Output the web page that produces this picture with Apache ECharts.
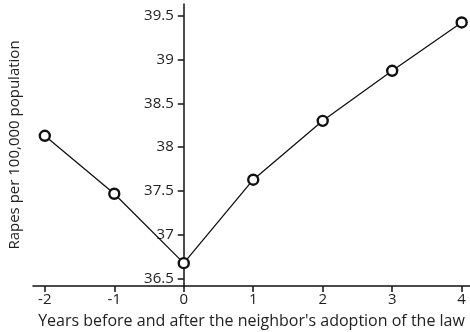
<!DOCTYPE html>
<html><head><meta charset="utf-8">
<script src="https://cdn.jsdelivr.net/npm/echarts@6/dist/echarts.min.js"></script>
<style>html,body{margin:0;padding:0;background:#fff}#c{width:470px;height:332px}</style>
</head><body><div id="c"></div>
<script>
const years = [-2, -1, 0, 1, 2, 3, 4];
const rapes = [38.13, 37.47, 36.68, 37.63, 38.30, 38.87, 39.42];
const xTicks = [-2, -1, 0, 1, 2, 3, 4];
const yTicks = [36.5, 37, 37.5, 38, 38.5, 39, 39.5];
const xTitle = "Years before and after the neighbor's adoption of the law";
const yTitle = "Rapes per 100,000 population";

const font = "'Open Sans', 'Noto Sans', sans-serif";
const gridLeft = 33;
const chart = echarts.init(document.getElementById('c'), null, {renderer: 'canvas'});
function build(yOffset, nameGap) {
  return {
    animation: false,
    grid: {left: gridLeft, right: 0, top: 4, bottom: 46, outerBoundsMode: 'none', containLabel: false},
    xAxis: {
      type: 'value', min: -2.17, max: 4.12,
      axisLine: {onZero: false, lineStyle: {color: '#111', width: 1.5}},
      axisTick: {show: true, customValues: xTicks, length: 6, lineStyle: {color: '#111', width: 1.5}},
      axisLabel: {customValues: xTicks, color: '#222', fontFamily: font, fontSize: 15, margin: 6},
      splitLine: {show: false},
      name: xTitle, nameLocation: 'middle', nameGap: 27,
      nameTextStyle: {color: '#222', fontFamily: font, fontSize: 16}
    },
    yAxis: {
      type: 'value', min: 36.42, max: 39.63, offset: yOffset,
      axisLine: {onZero: false, lineStyle: {color: '#111', width: 1.5}},
      axisTick: {show: true, customValues: yTicks, length: 6, lineStyle: {color: '#111', width: 1.5}},
      axisLabel: {customValues: yTicks, color: '#222', fontFamily: font, fontSize: 15, margin: 10},
      splitLine: {show: false},
      name: yTitle, nameLocation: 'middle', nameGap: nameGap, nameRotate: 90,
      nameTextStyle: {color: '#222', fontFamily: font, fontSize: 15}
    },
    series: [{
      type: 'line',
      data: years.map((x, i) => [x, rapes[i]]),
      symbol: 'circle', symbolSize: 10,
      lineStyle: {color: '#111', width: 1.3},
      itemStyle: {color: '#fff', borderColor: '#111', borderWidth: 2.4},
      z: 5
    }]
  };
}
chart.setOption(build(0, 11));
const zeroPx = chart.convertToPixel({xAxisIndex: 0}, 0);
const shift = zeroPx - gridLeft;
chart.setOption(build(-shift, 11 + shift));
</script></body></html>
